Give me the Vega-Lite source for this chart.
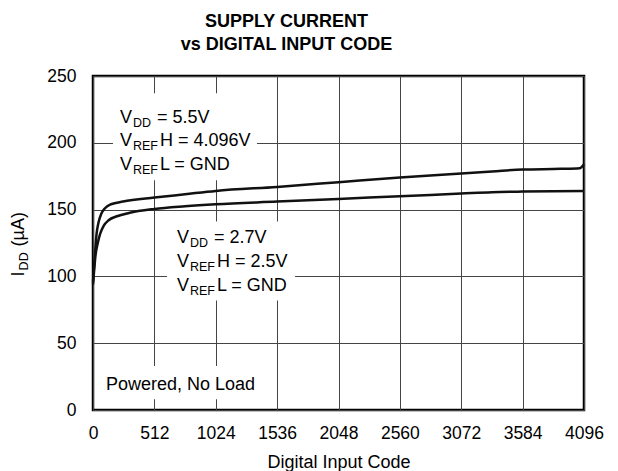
{
  "$schema": "https://vega.github.io/schema/vega-lite/v6.json",
  "width": 491,
  "height": 334,
  "autosize": {"type": "none"},
  "padding": {"left": 93, "top": 76, "right": 34, "bottom": 61},
  "title": {
    "text": ["SUPPLY CURRENT", "vs DIGITAL INPUT CODE"],
    "fontSize": 18,
    "fontWeight": "bold",
    "font": "Liberation Sans",
    "color": "#000",
    "anchor": "middle",
    "frame": "group",
    "dx": -52,
    "lineHeight": 23,
    "baseline": "alphabetic",
    "offset": -1
  },
  "config": {
    "view": {"stroke": "#000", "strokeWidth": 2.5},
    "font": "Liberation Sans",
    "text": {"font": "Liberation Sans", "color": "#000"}
  },
  "datasets": {
    "curves": [
      {"series": "5.5V", "code": 0, "current": 96},
      {"series": "5.5V", "code": 15, "current": 115},
      {"series": "5.5V", "code": 30, "current": 132},
      {"series": "5.5V", "code": 45, "current": 140},
      {"series": "5.5V", "code": 70, "current": 147},
      {"series": "5.5V", "code": 100, "current": 151},
      {"series": "5.5V", "code": 150, "current": 154},
      {"series": "5.5V", "code": 250, "current": 156},
      {"series": "5.5V", "code": 512, "current": 159},
      {"series": "5.5V", "code": 768, "current": 161.5},
      {"series": "5.5V", "code": 1024, "current": 164},
      {"series": "5.5V", "code": 1536, "current": 167},
      {"series": "5.5V", "code": 2048, "current": 170.5},
      {"series": "5.5V", "code": 2560, "current": 174},
      {"series": "5.5V", "code": 3072, "current": 177},
      {"series": "5.5V", "code": 3328, "current": 178.5},
      {"series": "5.5V", "code": 3584, "current": 180},
      {"series": "5.5V", "code": 3900, "current": 180.5},
      {"series": "5.5V", "code": 4060, "current": 181},
      {"series": "5.5V", "code": 4096, "current": 184},
      {"series": "2.7V", "code": 0, "current": 94},
      {"series": "2.7V", "code": 10, "current": 105},
      {"series": "2.7V", "code": 20, "current": 115},
      {"series": "2.7V", "code": 40, "current": 125},
      {"series": "2.7V", "code": 60, "current": 132},
      {"series": "2.7V", "code": 90, "current": 138},
      {"series": "2.7V", "code": 130, "current": 142},
      {"series": "2.7V", "code": 200, "current": 145},
      {"series": "2.7V", "code": 300, "current": 147.5},
      {"series": "2.7V", "code": 512, "current": 150.5},
      {"series": "2.7V", "code": 768, "current": 152.5},
      {"series": "2.7V", "code": 1024, "current": 154},
      {"series": "2.7V", "code": 1536, "current": 156},
      {"series": "2.7V", "code": 2048, "current": 158},
      {"series": "2.7V", "code": 2560, "current": 160},
      {"series": "2.7V", "code": 3072, "current": 162},
      {"series": "2.7V", "code": 3328, "current": 163},
      {"series": "2.7V", "code": 3584, "current": 163.5},
      {"series": "2.7V", "code": 4096, "current": 164}
    ],
    "boxes": [
      {"code": 167, "code2": 1368, "current": 172, "current2": 237},
      {"code": 617, "code2": 1685, "current": 82, "current2": 141},
      {"code": 58, "code2": 1410, "current": 8, "current2": 33}
    ],
    "notes": [
      {"code": 225, "current": 214.8, "sub": "DD", "rest": "= 5.5V"},
      {"code": 225, "current": 197.6, "sub": "REF", "rest": "H = 4.096V"},
      {"code": 225, "current": 179.6, "sub": "REF", "rest": "L = GND"},
      {"code": 700, "current": 124.8, "sub": "DD", "rest": "= 2.7V"},
      {"code": 700, "current": 107.3, "sub": "REF", "rest": "H = 2.5V"},
      {"code": 700, "current": 89.3, "sub": "REF", "rest": "L = GND"}
    ],
    "plain": [
      {"code": 108, "current": 15, "label": "Powered, No Load"}
    ],
    "ytitle": [
      {"code": -576, "current": 100}
    ]
  },
  "encoding": {
    "x": {
      "field": "code",
      "type": "quantitative",
      "scale": {"domain": [0, 4096], "nice": false, "zero": false},
      "axis": {
        "values": [0, 512, 1024, 1536, 2048, 2560, 3072, 3584, 4096],
        "format": "d",
        "title": "Digital Input Code",
        "titleFontSize": 18,
        "titleFontWeight": "normal",
        "titleColor": "#000",
        "titleFont": "Liberation Sans",
        "titlePadding": 12,
        "labelFontSize": 17.5,
        "labelColor": "#000",
        "labelFont": "Liberation Sans",
        "labelPadding": 14,
        "labelFlush": false,
        "labelOverlap": false,
        "ticks": false,
        "domain": false,
        "grid": true,
        "gridColor": "#444",
        "gridWidth": 1,
        "gridOpacity": 1
      }
    },
    "y": {
      "field": "current",
      "type": "quantitative",
      "scale": {"domain": [0, 250], "nice": false, "zero": false},
      "axis": {
        "values": [0, 50, 100, 150, 200, 250],
        "format": "d",
        "title": null,
        "labelFontSize": 17.5,
        "labelColor": "#000",
        "labelFont": "Liberation Sans",
        "labelPadding": 17,
        "labelFlush": false,
        "labelOverlap": false,
        "ticks": false,
        "domain": false,
        "grid": true,
        "gridColor": "#444",
        "gridWidth": 1,
        "gridOpacity": 1
      }
    }
  },
  "layer": [
    {
      "data": {"name": "boxes"},
      "mark": {"type": "rect", "fill": "#fff", "stroke": null},
      "encoding": {
        "x2": {"field": "code2"},
        "y2": {"field": "current2"}
      }
    },
    {
      "data": {"name": "curves"},
      "mark": {"type": "line", "color": "#111", "strokeWidth": 2.5, "interpolate": "monotone"},
      "encoding": {
        "detail": {"field": "series", "type": "nominal"}
      }
    },
    {
      "data": {"name": "notes"},
      "mark": {"type": "text", "align": "left", "baseline": "alphabetic", "fontSize": 18, "color": "#000"},
      "encoding": {"text": {"value": "V"}}
    },
    {
      "data": {"name": "notes"},
      "mark": {"type": "text", "align": "left", "baseline": "alphabetic", "fontSize": 12.5, "dx": 13, "dy": 4, "color": "#000"},
      "encoding": {"text": {"field": "sub"}}
    },
    {
      "data": {"name": "notes"},
      "transform": [{"filter": "datum.sub === 'DD'"}],
      "mark": {"type": "text", "align": "left", "baseline": "alphabetic", "fontSize": 18, "dx": 37, "color": "#000"},
      "encoding": {"text": {"field": "rest"}}
    },
    {
      "data": {"name": "notes"},
      "transform": [{"filter": "datum.sub === 'REF'"}],
      "mark": {"type": "text", "align": "left", "baseline": "alphabetic", "fontSize": 18, "dx": 40, "color": "#000"},
      "encoding": {"text": {"field": "rest"}}
    },
    {
      "data": {"name": "plain"},
      "mark": {"type": "text", "align": "left", "baseline": "alphabetic", "fontSize": 18, "color": "#000"},
      "encoding": {"text": {"field": "label"}}
    },
    {
      "data": {"name": "ytitle"},
      "mark": {"type": "text", "align": "left", "baseline": "alphabetic", "fontSize": 18, "angle": 270, "color": "#000"},
      "encoding": {"text": {"value": "I"}}
    },
    {
      "data": {"name": "ytitle"},
      "mark": {"type": "text", "align": "left", "baseline": "alphabetic", "fontSize": 12.5, "angle": 270, "dx": 6, "dy": 4, "color": "#000"},
      "encoding": {"text": {"value": "DD"}}
    },
    {
      "data": {"name": "ytitle"},
      "mark": {"type": "text", "align": "left", "baseline": "alphabetic", "fontSize": 18, "angle": 270, "dx": 30, "color": "#000"},
      "encoding": {"text": {"value": "(µA)"}}
    }
  ]
}
